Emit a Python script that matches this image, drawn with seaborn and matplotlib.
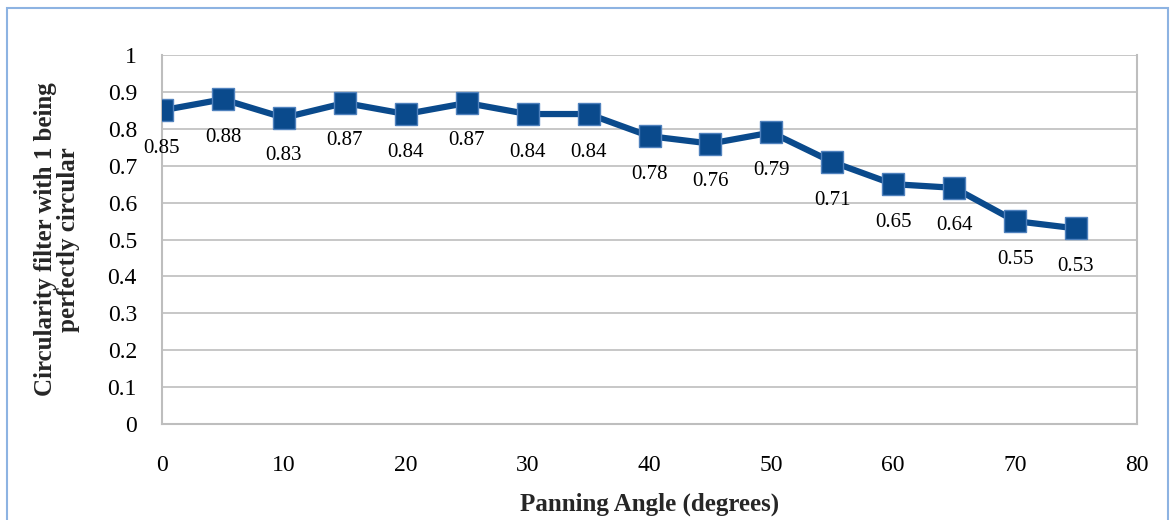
import matplotlib
matplotlib.use("Agg")
import matplotlib.pyplot as plt
import seaborn as sns
import pandas as pd
from matplotlib.patches import Rectangle

angles = [0, 5, 10, 15, 20, 25, 30, 35, 40, 45, 50, 55, 60, 65, 70, 75]
circularity = [0.85, 0.88, 0.83, 0.87, 0.84, 0.87, 0.84, 0.84, 0.78, 0.76, 0.79, 0.71, 0.65, 0.64, 0.55, 0.53]
x_ticks = [0, 10, 20, 30, 40, 50, 60, 70, 80]
y_ticks = [0, 0.1, 0.2, 0.3, 0.4, 0.5, 0.6, 0.7, 0.8, 0.9, 1]
y_tick_labels = ["0", "0.1", "0.2", "0.3", "0.4", "0.5", "0.6", "0.7", "0.8", "0.9", "1"]
x_label = "Panning Angle (degrees)"
y_label = "Circularity filter with 1 being\nperfectly circular"

df = pd.DataFrame({"angle": angles, "circ": circularity})

sns.set_theme(style="white")
plt.rcParams["font.family"] = ["Liberation Serif", "DejaVu Serif"]

fig = plt.figure(figsize=(11.71, 5.2), dpi=100)
ax = fig.add_axes([162/1171, 1-424/520, (1137-162)/1171, (424-55)/520])

grid_c = "#BEBEBE"
line_c = "#0A4A8C"

sns.lineplot(data=df, x="angle", y="circ", ax=ax, color=line_c, linewidth=4.5,
             marker="s", markersize=16, markeredgecolor="#4F81BD",
             markeredgewidth=1.0, markerfacecolor=line_c, zorder=3)

for a, c in zip(angles, circularity):
    ax.annotate(f"{c:.2f}", (a, c), xytext=(0, -38), textcoords="offset pixels",
                ha="center", va="center", fontsize=15, color="#000000")

ax.set_xlim(0, 80)
ax.set_ylim(0, 1)
ax.set_xticks(x_ticks)
ax.set_yticks(y_ticks)
ax.set_yticklabels(y_tick_labels)
ax.tick_params(axis="both", labelsize=17, colors="#000000", length=6, width=1.2,
               direction="out", color=grid_c)
ax.tick_params(axis="x", pad=16)
ax.tick_params(axis="y", pad=12)
ax.grid(axis="y", color=grid_c, linewidth=1.2)
ax.set_axisbelow(True)
for s in ["left", "bottom", "right"]:
    ax.spines[s].set_color(grid_c)
    ax.spines[s].set_linewidth(1.5)
ax.spines["top"].set_visible(False)

ax.set_xlabel(x_label, fontsize=18, fontweight="bold", labelpad=12)
ax.set_ylabel(y_label, fontsize=18, fontweight="bold", labelpad=20, linespacing=1.0)

fig.patches.append(Rectangle((7/1171, -0.1), (1168-7)/1171, 1.1 - 8/520,
                             transform=fig.transFigure, fill=False,
                             edgecolor="#8DB3E2", linewidth=1.5))

fig.savefig("out.png", dpi=100, facecolor="white")
